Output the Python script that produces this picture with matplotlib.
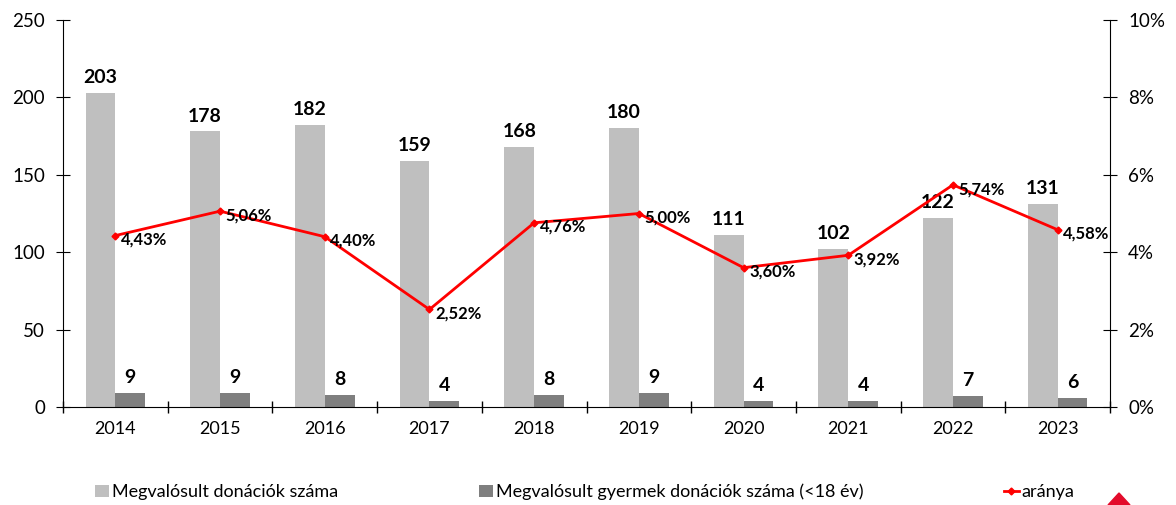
import matplotlib
matplotlib.use("Agg")
import matplotlib.pyplot as plt
import numpy as np
from matplotlib.patches import Polygon

years = ["2014", "2015", "2016", "2017", "2018", "2019", "2020", "2021", "2022", "2023"]
total = [203, 178, 182, 159, 168, 180, 111, 102, 122, 131]
child = [9, 9, 8, 4, 8, 9, 4, 4, 7, 6]
ratio = [4.43, 5.06, 4.40, 2.52, 4.76, 5.00, 3.60, 3.92, 5.74, 4.58]
ratio_labels = ["4,43%", "5,06%", "4,40%", "2,52%", "4,76%", "5,00%", "3,60%", "3,92%", "5,74%", "4,58%"]

plt.rcParams['font.family'] = ['Lato', 'DejaVu Sans']

fig = plt.figure(figsize=(11.76, 5.05), dpi=100)
ax = fig.add_axes([63/1176, 1-407/505, (1110-63)/1176, (407-20)/505])
ax2 = ax.twinx()

x = np.arange(len(years))
w = 0.285
light = "#bfbfbf"
dark = "#7f7f7f"
b1 = ax.bar(x - w/2, total, w, color=light, label="Megvalósult donációk száma", zorder=2)
b2 = ax.bar(x + w/2, child, w, color=dark, label="Megvalósult gyermek donációk száma (<18 év)", zorder=2)

for xi, v in zip(x, total):
    ax.annotate(str(v), (xi - w/2, v), xytext=(0, 5), textcoords="offset points",
                ha="center", va="bottom", fontsize=14, fontweight="bold")
for xi, v in zip(x, child):
    ax.annotate(str(v), (xi + w/2, v), xytext=(0, 5), textcoords="offset points",
                ha="center", va="bottom", fontsize=14, fontweight="bold")

ax.set_xlim(-0.5, len(years) - 0.5)
ax.set_ylim(0, 250)
ax.set_yticks(range(0, 251, 50))
ax.set_xticks(x)
ax.set_xticklabels(years, fontsize=13)
ax.set_xticks(np.arange(-0.5, len(years), 1), minor=True)
ax.tick_params(axis='x', which='major', length=0, pad=10)
ax.tick_params(axis='x', which='minor', length=8, direction='inout', width=1)
ax.tick_params(axis='y', length=10, direction='inout', labelsize=13.5, pad=8)

ax2.set_ylim(0, 10)
ax2.set_yticks(range(0, 11, 2))
ax2.set_yticklabels([f"{v}%" for v in range(0, 11, 2)])
ax2.tick_params(axis='y', length=10, direction='inout', labelsize=13.5, pad=8)

l, = ax2.plot(x, ratio, color="#ff0000", lw=2, marker="D", ms=3.5, label="aránya", zorder=3)
for xi, v, t in zip(x, ratio, ratio_labels):
    ax2.annotate(t, (xi, v), xytext=(4, -3), textcoords="offset points",
                 ha="left", va="center", fontsize=12, fontweight="bold")

for a in (ax, ax2):
    a.spines['top'].set_visible(False)
ax.spines['right'].set_visible(False)
ax2.spines['left'].set_visible(False)
ax2.spines['bottom'].set_visible(False)

ax.set_zorder(1)
ax2.set_zorder(2)
ax.patch.set_visible(False)

fig.legend(handles=[b1, b2, l], loc="center", bbox_to_anchor=(0.497, 1-492/505), ncol=3,
           frameon=False, fontsize=13, handlelength=0.8, handletextpad=0.15,
           columnspacing=7.8)

tri = Polygon([[1108/1176, 0], [1130/1176, 0], [1119/1176, 1-493/505]], closed=True,
              transform=fig.transFigure, color="#e30b2b")
fig.patches.append(tri)

fig.savefig("out.png", dpi=100)
